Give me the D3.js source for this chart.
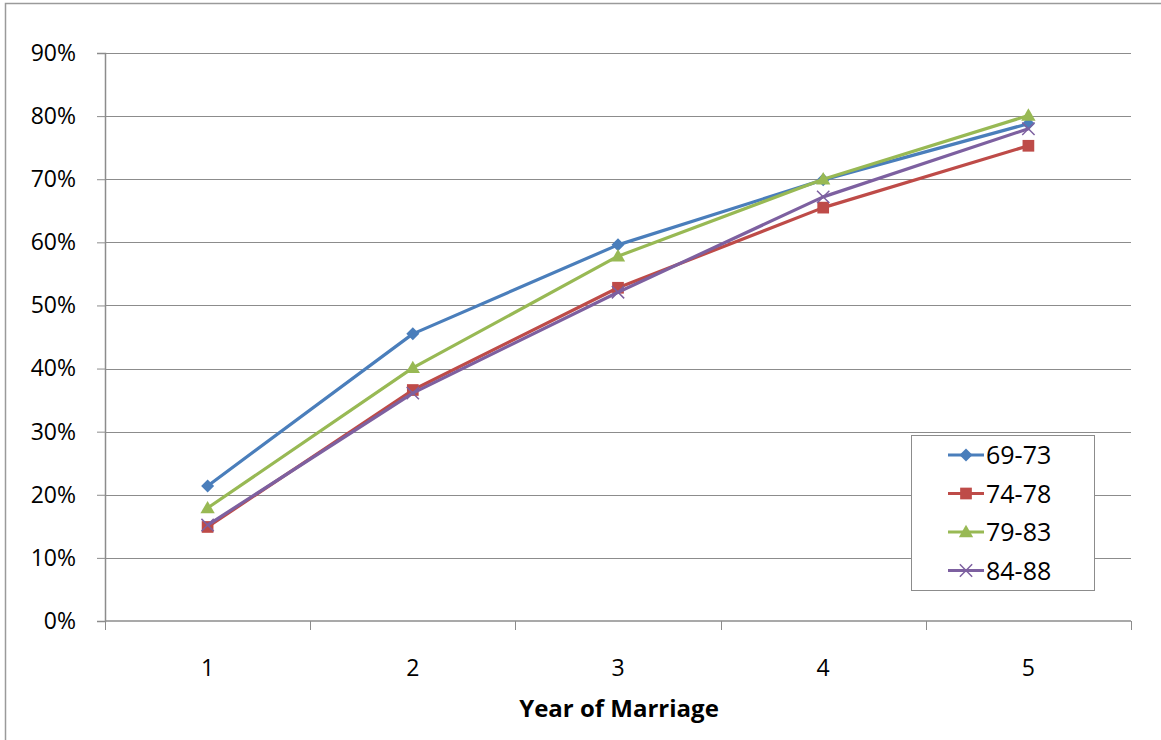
<!DOCTYPE html>
<html>
<head>
<meta charset="utf-8">
<script src="https://cdn.jsdelivr.net/npm/d3@7"></script>
<style>
  html, body { margin: 0; padding: 0; background: #fff; }
  svg { display: block; }
  text { font-family: "Open Sans", "Liberation Sans", sans-serif; fill: #000; }
</style>
</head>
<body>
<svg id="chart" width="1161" height="740"></svg>
<script>
// Share of couples (cumulative) by year of marriage, per marriage cohort
const years = [1, 2, 3, 4, 5];
const cohorts = ["69-73", "74-78", "79-83", "84-88"];
const cohort6973 = [0.214, 0.455, 0.596, 0.699, 0.788];
const cohort7478 = [0.149, 0.366, 0.528, 0.655, 0.753];
const cohort7983 = [0.179, 0.401, 0.578, 0.700, 0.801];
const cohort8488 = [0.152, 0.361, 0.521, 0.672, 0.780];
const yTicks = [0, 0.1, 0.2, 0.3, 0.4, 0.5, 0.6, 0.7, 0.8, 0.9];
const colors = ["#4a7ebb", "#be4b48", "#98b954", "#7d60a0"];
const shapes = ["diamond", "square", "triangle", "cross"];

const seriesValues = [cohort6973, cohort7478, cohort7983, cohort8488];
const series = cohorts.map((name, i) => ({
  name, color: colors[i], shape: shapes[i],
  values: years.map((yr, j) => ({ year: yr, value: seriesValues[i][j] }))
}));

const svg = d3.select("#chart");
const plot = { left: 105, right: 1131, top: 53, bottom: 621 };

// outer chart frame
svg.append("rect")
  .attr("x", 5.5).attr("y", 3.5)
  .attr("width", 1170).attr("height", 760)
  .attr("fill", "none").attr("stroke", "#9a9a9a").attr("stroke-width", 1.5);

const x = d3.scaleBand().domain(years).range([plot.left, plot.right]);
const y = d3.scaleLinear().domain([0, 0.9]).range([plot.bottom, plot.top]);

// horizontal gridlines
svg.append("g").selectAll("line").data(yTicks.filter(t => t > 0)).join("line")
  .attr("x1", plot.left).attr("x2", plot.right)
  .attr("y1", d => Math.round(y(d)) + 0.5).attr("y2", d => Math.round(y(d)) + 0.5)
  .attr("stroke", "#8c8c8c").attr("stroke-width", 1);

// y axis
const yAxis = svg.append("g")
  .attr("transform", `translate(${plot.left},0)`)
  .call(d3.axisLeft(y).tickValues(yTicks).tickFormat(d3.format(".0%")).tickSize(8).tickPadding(21));
yAxis.select(".domain").attr("stroke", "#8c8c8c").attr("stroke-width", 1.5);
yAxis.selectAll(".tick line").attr("stroke", "#8c8c8c");
yAxis.selectAll(".tick text")
  .attr("font-size", 23).attr("font-family", "'Open Sans', sans-serif").attr("fill", "#000");

// x axis with ticks between categories
const xAxisG = svg.append("g").attr("transform", `translate(0,${plot.bottom})`);
xAxisG.append("line")
  .attr("x1", plot.left).attr("x2", plot.right)
  .attr("stroke", "#8c8c8c").attr("stroke-width", 1.5);
const bounds = years.map(v => x(v)).concat([plot.right]);
xAxisG.selectAll("line.tk").data(bounds).join("line").attr("class", "tk")
  .attr("x1", d => Math.round(d) + 0.5).attr("x2", d => Math.round(d) + 0.5)
  .attr("y1", 0).attr("y2", 9)
  .attr("stroke", "#8c8c8c").attr("stroke-width", 1);
xAxisG.selectAll("text").data(years).join("text")
  .attr("x", d => x(d) + x.bandwidth() / 2)
  .attr("y", 55)
  .attr("text-anchor", "middle")
  .attr("font-size", 23)
  .text(d => d);

svg.append("text")
  .attr("x", (plot.left + plot.right) / 2 + 1)
  .attr("y", 717)
  .attr("text-anchor", "middle")
  .attr("font-size", 24).attr("font-weight", "bold")
  .text("Year of Marriage");

// marker drawing
function drawMarker(sel, shape, color, size) {
  const s = size;
  if (shape === "diamond") {
    sel.append("path").attr("d", `M0,${-s}L${s},0L0,${s}L${-s},0Z`).attr("fill", color);
  } else if (shape === "square") {
    sel.append("rect").attr("x", -s * 0.9).attr("y", -s * 0.9)
      .attr("width", s * 1.8).attr("height", s * 1.8).attr("fill", color);
  } else if (shape === "triangle") {
    sel.append("path").attr("d", `M0,${-s * 1.1}L${s * 1.1},${s * 0.8}L${-s * 1.1},${s * 0.8}Z`).attr("fill", color);
  } else {
    sel.append("path").attr("d", `M${-s * 0.95},${-s * 0.95}L${s * 0.95},${s * 0.95}M${-s * 0.95},${s * 0.95}L${s * 0.95},${-s * 0.95}`)
      .attr("stroke", color).attr("stroke-width", 1.5).attr("fill", "none");
  }
}

const line = d3.line()
  .x(d => x(d.year) + x.bandwidth() / 2)
  .y(d => y(d.value));

const sg = svg.append("g").selectAll("g").data(series).join("g");
sg.append("path")
  .attr("d", d => line(d.values))
  .attr("fill", "none")
  .attr("stroke", d => d.color)
  .attr("stroke-width", 3.2)
  .attr("stroke-linejoin", "round");
sg.each(function (s) {
  d3.select(this).selectAll("g.mk").data(s.values).join("g").attr("class", "mk")
    .attr("transform", d => `translate(${x(d.year) + x.bandwidth() / 2},${y(d.value)})`)
    .each(function () { drawMarker(d3.select(this), s.shape, s.color, 6.5); });
});

// legend
const legend = svg.append("g").attr("transform", "translate(911,435)");
legend.append("rect")
  .attr("x", 0.5).attr("y", 0.5).attr("width", 183).attr("height", 155)
  .attr("fill", "#fff").attr("stroke", "#8c8c8c").attr("stroke-width", 1);
const li = legend.selectAll("g.item").data(series).join("g").attr("class", "item")
  .attr("transform", (d, i) => `translate(0,${20 + i * 38.5})`);
li.append("line")
  .attr("x1", 37).attr("x2", 73)
  .attr("stroke", d => d.color).attr("stroke-width", 3.2);
li.append("g").attr("transform", "translate(55,0)")
  .each(function (d) { drawMarker(d3.select(this), d.shape, d.color, 6.5); });
li.append("text")
  .attr("x", 75).attr("y", 9)
  .attr("font-size", 25)
  .text(d => d.name);
</script>
</body>
</html>
